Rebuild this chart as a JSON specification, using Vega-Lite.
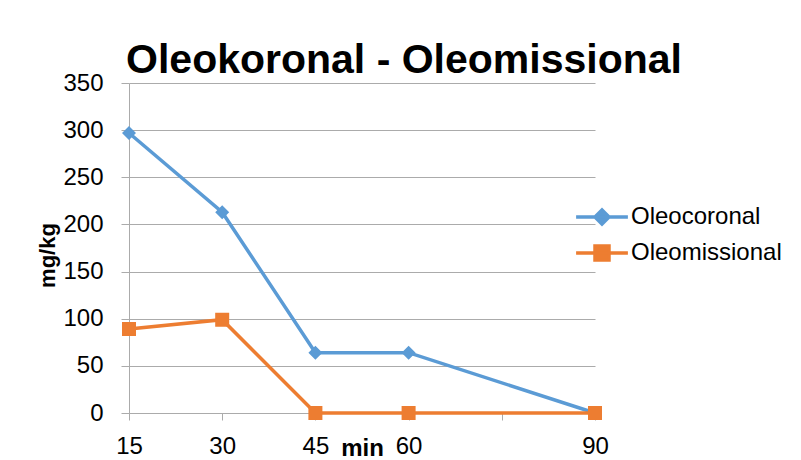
{
  "$schema": "https://vega.github.io/schema/vega-lite/v6.json",
  "autosize": {"type": "none"},
  "width": 466,
  "height": 330,
  "padding": {"left": 129, "top": 83, "right": 206, "bottom": 47},
  "background": "white",
  "config": {"view": {"stroke": null}, "font": "Liberation Sans"},
  "title": {
    "text": "Oleokoronal - Oleomissional",
    "font": "Liberation Sans",
    "fontSize": 41,
    "fontWeight": "bold",
    "color": "black",
    "anchor": "middle",
    "frame": "group",
    "baseline": "alphabetic",
    "offset": 0,
    "dx": 42,
    "dy": 43
  },
  "data": {
    "values": [
      {"t": 15, "v": 297, "s": "Oleocoronal"},
      {"t": 30, "v": 213, "s": "Oleocoronal"},
      {"t": 45, "v": 64, "s": "Oleocoronal"},
      {"t": 60, "v": 64, "s": "Oleocoronal"},
      {"t": 90, "v": 0, "s": "Oleocoronal"},
      {"t": 15, "v": 89, "s": "Oleomissional"},
      {"t": 30, "v": 99, "s": "Oleomissional"},
      {"t": 45, "v": 0, "s": "Oleomissional"},
      {"t": 60, "v": 0, "s": "Oleomissional"},
      {"t": 90, "v": 0, "s": "Oleomissional"}
    ]
  },
  "encoding": {
    "x": {
      "field": "t", "type": "quantitative",
      "scale": {"domain": [15, 90], "nice": false, "zero": false},
      "axis": {
        "values": [15, 30, 45, 60, 75, 90],
        "labelExpr": "datum.value === 75 ? '' : datum.label",
        "labelFlush": false,
        "labelOverlap": false,
        "title": "min",
        "titleFontWeight": "bold",
        "titleFontSize": 24,
        "titleFont": "Liberation Sans",
        "titleColor": "black",
        "titleX": 233,
        "titleY": 42,
        "titleAlign": "center",
        "titleBaseline": "alphabetic",
        "labelFontSize": 24,
        "labelFont": "Liberation Sans",
        "labelColor": "black",
        "labelPadding": 14,
        "tickSize": 7,
        "tickColor": "#ababab",
        "domainColor": "#ababab",
        "grid": false
      }
    },
    "y": {
      "field": "v", "type": "quantitative",
      "scale": {"domain": [0, 350], "nice": false},
      "axis": {
        "values": [0, 50, 100, 150, 200, 250, 300, 350],
        "title": "mg/kg",
        "titleFontWeight": "bold",
        "titleFontSize": 22,
        "titleFont": "Liberation Sans",
        "titleColor": "black",
        "titleX": -82,
        "titleY": 172,
        "titleAngle": -90,
        "titleAlign": "center",
        "titleBaseline": "middle",
        "labelFontSize": 24,
        "labelFont": "Liberation Sans",
        "labelColor": "black",
        "labelPadding": 18,
        "tickSize": 8,
        "tickColor": "#ababab",
        "domainColor": "#ababab",
        "gridColor": "#ababab",
        "gridWidth": 1
      }
    },
    "color": {
      "field": "s", "type": "nominal",
      "scale": {"domain": ["Oleocoronal", "Oleomissional"], "range": ["#5b9bd5", "#ed7d31"]},
      "legend": {
        "title": null,
        "orient": "none",
        "legendX": 461,
        "legendY": 122,
        "padding": 0,
        "labelFontSize": 24,
        "labelFont": "Liberation Sans",
        "labelColor": "black",
        "labelOffset": 17,
        "symbolSize": 196,
        "symbolStrokeWidth": 3.5,
        "rowPadding": 8
      }
    }
  },
  "layer": [
    {"mark": {"type": "line", "strokeWidth": 3.5, "clip": false}},
    {
      "mark": {"type": "point", "filled": true, "size": 196, "strokeWidth": 0, "opacity": 1, "clip": false},
      "encoding": {
        "shape": {
          "field": "s", "type": "nominal",
          "scale": {"domain": ["Oleocoronal", "Oleomissional"], "range": ["M-3.7,0H3.7M0,-1L1,0L0,1L-1,0Z", "M-3.7,0H3.7M-1,-1H1V1H-1Z"]},
          "legend": {
            "title": null,
            "orient": "none",
            "legendX": 461,
            "legendY": 122,
            "padding": 0,
            "labelFontSize": 24,
            "labelFont": "Liberation Sans",
            "labelColor": "black",
            "labelOffset": 17,
            "symbolSize": 196,
            "symbolStrokeWidth": 3.5,
            "rowPadding": 8
          }
        },
        "stroke": {
          "field": "s", "type": "nominal",
          "scale": {"domain": ["Oleocoronal", "Oleomissional"], "range": ["#5b9bd5", "#ed7d31"]},
          "legend": {
            "title": null,
            "orient": "none",
            "legendX": 461,
            "legendY": 122,
            "padding": 0,
            "labelFontSize": 24,
            "labelFont": "Liberation Sans",
            "labelColor": "black",
            "labelOffset": 17,
            "symbolSize": 196,
            "symbolStrokeWidth": 3.5,
            "rowPadding": 8
          }
        }
      }
    }
  ]
}
